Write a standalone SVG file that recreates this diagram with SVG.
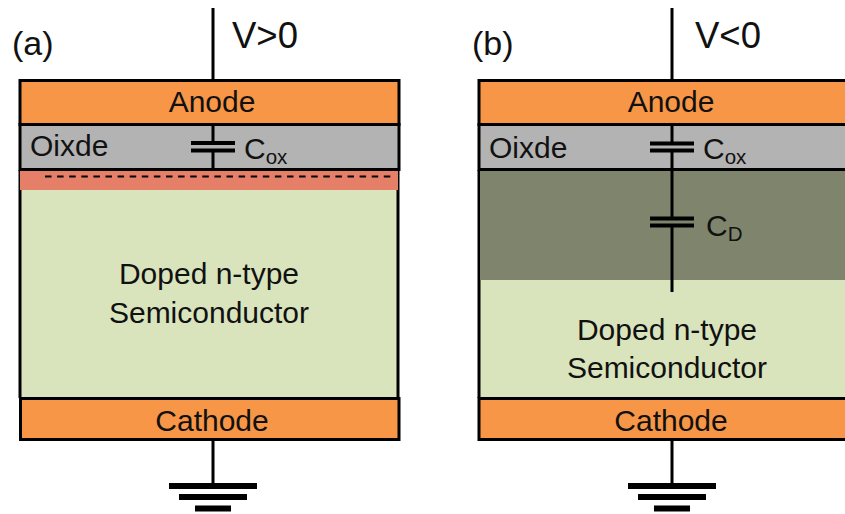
<svg xmlns="http://www.w3.org/2000/svg" width="845" height="514" viewBox="0 0 845 514">
<style>
text{font-family:"Liberation Sans",Arial,sans-serif;font-size:30px;fill:#111}
.c{text-anchor:middle}
.sm{font-size:20.500px}
.big{font-size:36.500px}
.tag{font-size:34px}
.orange{fill:#f79646;stroke:#000;stroke-width:3}
.grey{fill:#b3b3b3;stroke:#000;stroke-width:3}
.green{fill:#d9e4bd}
.w{stroke:#000;stroke-width:3;fill:none}
.p{stroke:#000;stroke-width:4;fill:none}
.g1{stroke:#000;stroke-width:6;fill:none}
</style>
<g id="panel-a">
<g id="a-semiconductor"><rect class="green" x="20" y="171" width="378" height="227"/><path class="w" d="M20 170V398M398 170V398"/>
<text class="c" x="209" y="284">Doped n-type</text><text class="c" x="209" y="323">Semiconductor</text></g>
<g id="a-accumulation"><rect x="20" y="171" width="378" height="19" fill="#e67f68"/><path d="M45 176.500H392" stroke="#000" stroke-width="2" stroke-dasharray="6.500 5.600" fill="none"/></g>
<g id="a-anode"><rect class="orange" x="20" y="80.500" width="379" height="44"/><text class="c" x="212" y="112">Anode</text></g>
<g id="a-oxide"><rect class="grey" x="20" y="124.500" width="379" height="45"/><text x="30" y="156">Oixde</text></g>
<g id="a-cathode"><rect class="orange" x="20.500" y="398.500" width="378.500" height="41"/><text class="c" x="212" y="431">Cathode</text></g>
<text id="a-label" class="tag" x="12" y="55">(a)</text>
<text id="a-voltage" class="big" x="232" y="48">V&gt;0</text>
<text id="a-cox" x="244" y="159">C<tspan class="sm" dy="5">ox</tspan></text>
</g>
<g id="panel-b">
<g id="b-semiconductor"><rect class="green" x="479" y="171" width="380" height="227"/><path class="w" d="M479 170V398"/>
<text class="c" x="667" y="340">Doped n-type</text><text class="c" x="667" y="378">Semiconductor</text></g>
<g id="b-depletion"><rect x="480" y="170" width="379" height="110" fill="#7e856c"/></g>
<g id="b-anode"><rect class="orange" x="479" y="80.500" width="380" height="44"/><text class="c" x="671" y="112">Anode</text></g>
<g id="b-oxide"><rect class="grey" x="479" y="124.500" width="380" height="45"/><text x="489" y="158">Oixde</text></g>
<g id="b-cathode"><rect class="orange" x="479" y="398.500" width="380" height="41"/><text class="c" x="671" y="431">Cathode</text></g>
<text id="b-label" class="tag" x="472" y="55">(b)</text>
<text id="b-voltage" class="big" x="695" y="48">V&lt;0</text>
<text id="b-cox" x="703" y="159">C<tspan class="sm" dy="5">ox</tspan></text>
<text id="b-cd" x="706" y="236">C<tspan class="sm" dy="5">D</tspan></text>
</g>
<g id="connectors">
<path class="w" d="M213 8V80M213 125V142M213 151V169M213 440V486"/>
<path class="p" d="M191 143H235M191 150.500H235"/>
<path class="g1" d="M169 486H257M179 497H247M195 508.500H231"/>
<path class="w" d="M672 8V80M672 125V143M672 151V218M672 226V292M672 440V486"/>
<path class="p" d="M650 143.500H694M650 150.500H694M650 218.500H694M650 225.500H694"/>
<path class="g1" d="M628 486H716M638 497H706M654 508.500H690"/>
</g>
</svg>
